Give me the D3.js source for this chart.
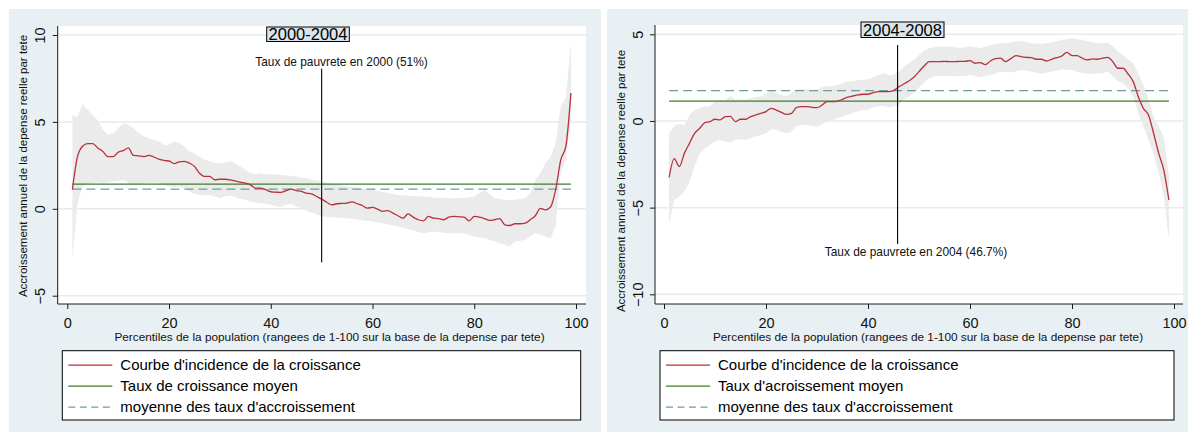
<!DOCTYPE html>
<html><head><meta charset="utf-8">
<script src="https://cdn.jsdelivr.net/npm/d3@7"></script>
<style>
html,body{margin:0;padding:0;background:#fff;}
svg{display:block;font-family:"Liberation Sans",Arial,sans-serif;}
</style></head>
<body><svg id="chart" width="1188" height="432"></svg>
<script>
// ---------- DATA ----------
const percentiles = d3.range(1, 100); // 1..99

// 2000-2004 growth incidence curve
const gic0004 = [
  1.1,3.0,3.6,3.75,3.75,3.5,3.3,3.0,3.0,3.25,
  3.35,3.5,3.07,3.05,3.0,3.07,2.98,2.86,2.78,2.75,
  2.6,2.7,2.73,2.63,2.44,2.05,1.86,1.86,1.67,1.7,
  1.7,1.67,1.6,1.53,1.48,1.38,1.19,1.19,1.1,0.98,
  0.96,0.94,1.04,1.13,1.05,1.0,0.9,0.86,0.71,0.56,
  0.38,0.23,0.29,0.31,0.33,0.4,0.29,0.19,0.04,0.08,
  -0.02,-0.15,-0.1,-0.25,-0.4,-0.54,-0.29,-0.48,-0.63,-0.69,
  -0.44,-0.54,-0.56,-0.63,-0.48,-0.44,-0.46,-0.48,-0.69,-0.44,
  -0.48,-0.56,-0.67,-0.63,-0.56,-0.92,-0.96,-0.86,-0.86,-0.83,
  -0.63,-0.4,0.02,-0.06,0.1,1.1,2.82,3.59,6.66
];
const bandX0004 = [1,2,3,4,5,6,7,8,9,10,11,12,13,14,15,16,17,18,19,20,21,22,23,24,25,26,27,28,29,30,
  31,32,33,34,35,36,37,38,39,40,41,42,43,44,45,50,55,60,65,70,72,75,78,80,82,84,86,87,88,90,91,92,93,94,95,96,97,98,99];
const bandUp0004 = [5.4,5.3,6.05,5.7,5.4,5.1,4.55,4.26,4.36,4.65,4.9,4.84,4.65,4.36,4.17,4.07,3.97,3.88,3.65,3.69,
  3.88,3.78,3.59,3.3,3.2,3.0,2.82,2.73,2.63,2.6,2.67,2.73,2.63,2.44,2.25,2.05,2.0,2.05,1.96,2.0,
  1.98,1.95,1.92,1.9,1.86,1.57,1.29,1.1,0.8,0.71,0.65,0.61,0.62,0.71,1.1,0.6,0.52,0.5,0.52,0.6,
  0.9,1.67,2.05,2.63,3.0,3.78,5.9,6.37,9.54];
const bandLo0004 = [-2.94,0.33,1.29,1.44,1.48,1.53,1.48,1.52,1.57,1.6,1.67,1.48,1.38,1.38,1.48,1.48,1.52,1.48,1.38,1.29,
  1.25,1.29,1.19,1.0,0.86,0.8,0.8,0.8,0.71,0.61,0.71,0.75,0.67,0.56,0.52,0.42,0.36,0.33,0.29,0.23,
  0.13,0.1,0.23,0.29,0.13,-0.44,-0.54,-0.73,-1.02,-1.4,-1.3,-1.4,-1.4,-1.59,-1.69,-1.88,-2.07,-2.17,-1.88,-1.79,
  -1.6,-1.4,-1.5,-1.6,-1.69,-1.0,2.05,2.82,5.13];
const meanGrowth0004 = 1.42;   // Taux de croissance moyen
const meanOfRates0004 = 1.13;  // moyenne des taux d'accroissement
const povertyLine0004 = 50;

// 2004-2008 growth incidence curve
const gic0408 = [
  -3.25,-2.17,-2.63,-1.87,-1.29,-0.71,-0.42,-0.1,-0.04,0.1,
  0.06,0.25,0.27,-0.04,0.1,0.1,0.25,0.35,0.44,0.54,
  0.73,0.63,0.5,0.38,0.44,0.79,0.83,0.83,0.79,0.77,
  0.92,1.12,1.12,1.15,1.25,1.37,1.44,1.5,1.54,1.54,
  1.63,1.69,1.69,1.69,1.75,1.96,2.13,2.31,2.52,2.85,
  3.17,3.42,3.42,3.42,3.44,3.42,3.42,3.44,3.44,3.48,
  3.33,3.37,3.25,3.46,3.6,3.62,3.42,3.6,3.77,3.71,
  3.67,3.65,3.56,3.56,3.46,3.56,3.65,3.75,3.96,3.77,
  3.77,3.62,3.52,3.58,3.56,3.62,3.67,3.42,3.04,3.04,
  2.71,2.27,1.4,0.73,0.35,-0.71,-1.87,-2.83,-4.56
];
const bandX0408 = [1,2,3,4,5,6,7,8,9,10,11,12,13,14,15,16,17,18,19,20,21,22,23,24,25,26,27,28,29,30,
  31,32,33,34,35,36,37,38,39,40,41,42,43,44,45,46,47,48,49,50,51,52,53,54,55,56,57,58,59,60,
  62,64,66,68,70,72,74,76,78,80,82,84,86,87,88,89,90,91,92,93,94,95,96,97,98,99];
const bandUp0408 = [-0.71,-0.29,-0.17,-0.23,0.35,0.63,0.73,0.83,0.83,1.12,1.21,1.21,1.46,1.21,1.25,1.25,1.31,1.4,1.4,1.6,
  1.79,1.63,1.5,1.44,1.6,1.83,1.83,1.83,1.79,1.79,1.94,2.02,2.02,2.08,2.17,2.27,2.27,2.37,2.37,2.4,
  2.52,2.65,2.75,2.65,2.65,2.85,3.13,3.33,3.52,3.81,4.06,4.19,4.25,4.29,4.29,4.29,4.25,4.23,4.25,4.29,
  4.19,4.38,4.48,4.52,4.63,4.48,4.44,4.52,4.67,4.77,4.67,4.52,4.48,4.52,4.29,4.0,3.81,3.56,3.33,2.75,
  2.08,1.21,0.25,-0.33,-0.9,-3.21];
const bandLo0408 = [-5.94,-4.56,-4.37,-4.08,-3.5,-2.63,-1.87,-1.58,-1.38,-1.19,-1.1,-1.19,-1.25,-1.1,-1.06,-1.1,-1.0,-0.9,-0.81,-0.71,
  -0.48,-0.52,-0.62,-0.71,-0.62,-0.29,-0.23,-0.23,-0.29,-0.33,-0.17,-0.04,0.06,0.15,0.25,0.35,0.44,0.54,0.63,0.63,
  0.79,0.83,0.87,0.79,0.83,0.92,1.21,1.4,1.63,1.94,2.21,2.46,2.56,2.6,2.6,2.6,2.56,2.6,2.56,2.65,
  2.52,2.65,2.85,2.79,2.94,2.85,2.71,2.85,2.98,2.94,2.75,2.71,2.75,2.85,2.6,2.27,2.17,1.88,1.4,0.44,
  -0.33,-1.1,-1.87,-3.02,-4.37,-6.87];
const meanGrowth0408 = 1.15;   // Taux d'acroissement moyen
const meanOfRates0408 = 1.75;  // moyenne des taux d'accroissement
const povertyLine0408 = 45.8;

const xTicks = [0,20,40,60,80,100];
const yTicks0004 = [-5,0,5,10];
const yTicks0408 = [-10,-5,0,5];

const yTitle = "Accroissement annuel de la depense reelle par tete";
const xTitle = "Percentiles de la population (rangees de 1-100 sur la base de la depense par tete)";

// ---------- STYLE ----------
const C = {
  bg: "#e8f0f3", plot: "#ffffff", grid: "#e3edf1", band: "#ebebeb",
  red: "#b8303d", green: "#3e7d2b", teal: "#6e9c9c", axis: "#1a1a1a", titleFill: "#d9e5ea"
};

const svg = d3.select("#chart");

function panel(cfg) {
  const g = svg.append("g");
  g.append("rect").attr("x", cfg.bg[0]).attr("y", cfg.bg[1]).attr("width", cfg.bg[2]).attr("height", cfg.bg[3]).attr("fill", C.bg);
  const P = cfg.plot; // [left, top, right, bottom]
  g.append("rect").attr("x", P[0]).attr("y", P[1]).attr("width", P[2]-P[0]).attr("height", P[3]-P[1]).attr("fill", C.plot);

  const x = d3.scaleLinear().domain([0,100]).range(cfg.xr);
  const y = d3.scaleLinear().domain(cfg.yd).range(cfg.yr);

  // grid
  g.selectAll(".grid").data(cfg.yTicks).join("line")
    .attr("x1", P[0]).attr("x2", P[2]).attr("y1", d=>y(d)).attr("y2", d=>y(d))
    .attr("stroke", C.grid).attr("stroke-width", 1.5);

  // confidence band
  const band = cfg.bandX.map((p,i)=>({p, lo: cfg.bandLo[i], hi: cfg.bandUp[i]}));
  g.append("path").datum(band)
    .attr("d", d3.area().x(d=>x(d.p)).y0(d=>y(d.lo)).y1(d=>y(d.hi)))
    .attr("fill", C.band);

  // mean lines
  const x0 = x(percentiles[0]), x1 = x(percentiles[percentiles.length-1]);
  g.append("line").attr("x1", x0).attr("x2", x1).attr("y1", y(cfg.meanRates)).attr("y2", y(cfg.meanRates))
    .attr("stroke", C.teal).attr("stroke-width", 1.3).attr("stroke-dasharray", "9,5");
  g.append("line").attr("x1", x0).attr("x2", x1).attr("y1", y(cfg.meanGrowth)).attr("y2", y(cfg.meanGrowth))
    .attr("stroke", C.green).attr("stroke-width", 1.3);

  // GIC
  g.append("path").datum(cfg.gic)
    .attr("d", d3.line().x((d,i)=>x(percentiles[i])).y(d=>y(d)).curve(d3.curveMonotoneX))
    .attr("fill", "none").attr("stroke", C.red).attr("stroke-width", 1.3);

  // poverty vertical line
  g.append("line").attr("x1", x(cfg.pov)).attr("x2", x(cfg.pov)).attr("y1", y(cfg.povY[0])).attr("y2", y(cfg.povY[1]))
    .attr("stroke", "#000").attr("stroke-width", 1.1);
  g.append("text").attr("x", cfg.povLabel[0]).attr("y", cfg.povLabel[1]).attr("dy", "0.35em")
    .attr("text-anchor", "middle").attr("font-size", 11.9).attr("fill", "#111").text(cfg.povText);

  // axes
  const ya = g.append("g").attr("transform", `translate(${P[0]},0)`)
    .call(d3.axisLeft(y).tickValues(cfg.yTicks).tickSize(5).tickSizeOuter(0));
  ya.select(".domain").remove();
  ya.selectAll(".tick line").attr("stroke", C.axis);
  ya.selectAll(".tick text").attr("x", 0).attr("dy", "0.35em").attr("text-anchor", "middle")
    .attr("transform", "translate(-17.5,0) rotate(-90)").attr("font-size", 14.5).attr("fill", "#111")
    .attr("font-family", "Liberation Sans, Arial, sans-serif");
  g.append("line").attr("x1", P[0]).attr("x2", P[0]).attr("y1", P[1]).attr("y2", P[3]).attr("stroke", C.axis);

  const xa = g.append("g").attr("transform", `translate(0,${P[3]})`)
    .call(d3.axisBottom(x).tickValues(xTicks).tickSize(5).tickSizeOuter(0));
  xa.select(".domain").remove();
  xa.selectAll(".tick line").attr("stroke", C.axis);
  xa.selectAll(".tick text").attr("y", 19).attr("dy", "0.35em").attr("font-size", 14.5).attr("fill", "#111")
    .attr("font-family", "Liberation Sans, Arial, sans-serif");
  g.append("line").attr("x1", P[0]).attr("x2", P[2]).attr("y1", P[3]).attr("y2", P[3]).attr("stroke", C.axis);

  // axis titles
  g.append("text").attr("transform", `translate(${cfg.yTitlePos[0]},${cfg.yTitlePos[1]}) rotate(-90)`)
    .attr("text-anchor", "middle").attr("dy", "0.35em").attr("font-size", 11.5).attr("fill", "#111").text(yTitle);
  g.append("text").attr("x", cfg.xTitlePos[0]).attr("y", cfg.xTitlePos[1]).attr("dy", "0.35em")
    .attr("text-anchor", "middle").attr("font-size", 11.8).attr("fill", "#111").text(xTitle);

  // title box
  const T = cfg.titleBox;
  g.append("rect").attr("x", T[0]).attr("y", T[1]).attr("width", T[2]).attr("height", T[3])
    .attr("fill", C.titleFill).attr("stroke", "#000").attr("stroke-width", 1);
  g.append("text").attr("x", T[0]+T[2]/2).attr("y", T[1]+T[3]/2).attr("dy", "0.36em")
    .attr("text-anchor", "middle").attr("font-size", 16.5).attr("fill", "#000").text(cfg.title);

  // legend
  const L = cfg.legend; // [x, y, w, h]
  g.append("rect").attr("x", L[0]).attr("y", L[1]).attr("width", L[2]).attr("height", L[3])
    .attr("fill", "#fff").attr("stroke", "#000").attr("stroke-width", 1);
  const items = [
    {label: cfg.legendLabels[0], color: C.red, dash: null},
    {label: cfg.legendLabels[1], color: C.green, dash: null},
    {label: cfg.legendLabels[2], color: C.teal, dash: "7,4.5"}
  ];
  items.forEach((it, i) => {
    const yy = L[1] + 14.5 + i*21;
    g.append("line").attr("x1", L[0]+6).attr("x2", L[0]+50).attr("y1", yy).attr("y2", yy)
      .attr("stroke", it.color).attr("stroke-width", 1.3).attr("stroke-dasharray", it.dash);
    g.append("text").attr("x", L[0]+58).attr("y", yy).attr("dy", "0.35em")
      .attr("font-size", 15).attr("fill", "#000").text(it.label);
  });
}

panel({
  bg: [9, 9, 592, 423], plot: [57.7, 26, 586, 304],
  xr: [67.3, 576], yd: [-5, 10], yr: [295.7, 35],
  yTicks: yTicks0004, gic: gic0004, bandX: bandX0004, bandUp: bandUp0004, bandLo: bandLo0004,
  meanGrowth: meanGrowth0004, meanRates: meanOfRates0004,
  pov: povertyLine0004, povY: [8.06, -3.07], povLabel: [341.5, 62], povText: "Taux de pauvrete en 2000 (51%)",
  yTitlePos: [23, 166], xTitlePos: [329.5, 336.5],
  titleBox: [266.7, 27, 82.6, 14.5], title: "2000-2004",
  legend: [62.3, 350.7, 518.4, 69.3],
  legendLabels: ["Courbe d'incidence de la croissance", "Taux de croissance moyen", "moyenne des taux d'accroissement"]
});

panel({
  bg: [607, 9, 581, 423], plot: [655, 25, 1183, 304],
  xr: [664, 1174], yd: [-10, 5], yr: [294.3, 34.3],
  yTicks: yTicks0408, gic: gic0408, bandX: bandX0408, bandUp: bandUp0408, bandLo: bandLo0408,
  meanGrowth: meanGrowth0408, meanRates: meanOfRates0408,
  pov: povertyLine0408, povY: [4.38, -7.1], povLabel: [916, 252], povText: "Taux de pauvrete en 2004 (46.7%)",
  yTitlePos: [621, 181], xTitlePos: [928, 336.5],
  titleBox: [861, 22, 83, 15.5], title: "2004-2008",
  legend: [660, 350.7, 514, 69.3],
  legendLabels: ["Courbe d'incidence de la croissance", "Taux d'acroissement moyen", "moyenne des taux d'accroissement"]
});
</script></body></html>
